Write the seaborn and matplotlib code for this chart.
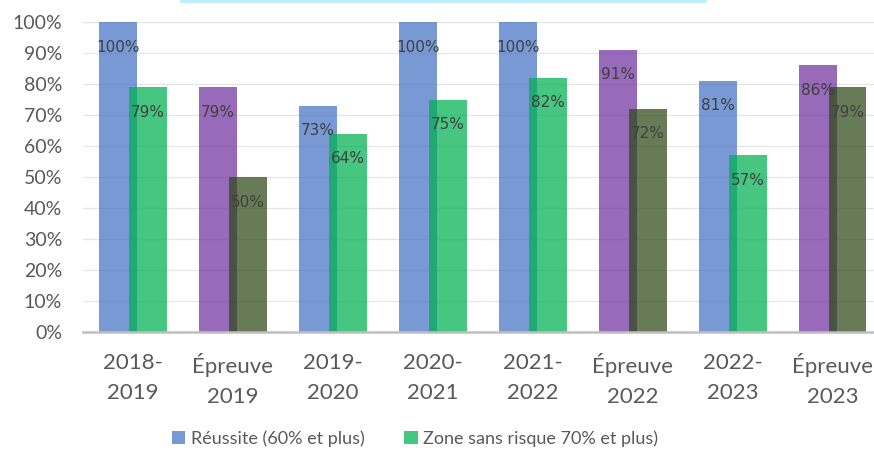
import matplotlib
matplotlib.use('Agg')
import numpy as np
import pandas as pd
import matplotlib.pyplot as plt
import seaborn as sns
from matplotlib.patches import Patch, Rectangle
from matplotlib.ticker import PercentFormatter

categories = ['2018-\n2019', 'Épreuve\n2019', '2019-\n2020', '2020-\n2021',
              '2021-\n2022', 'Épreuve\n2022', '2022-\n2023', 'Épreuve\n2023']
reussite = [1.00, 0.79, 0.73, 1.00, 1.00, 0.91, 0.81, 0.86]
zone = [0.79, 0.50, 0.64, 0.75, 0.82, 0.72, 0.57, 0.79]
legend_labels = ['Réussite (60% et plus)', 'Zone sans risque 70% et plus)']

is_epreuve = [c.startswith('Épreuve') for c in categories]
colors1 = ['#7030A0' if e else '#4472C4' for e in is_epreuve]
colors2 = ['#2C4915' if e else '#00B050' for e in is_epreuve]
ALPHA = 0.72
grey = '#595959'

df = pd.DataFrame({'cat': categories, 'reussite': reussite, 'zone': zone})

fig = plt.figure(figsize=(8.74, 4.5), dpi=100)
ax = fig.add_axes([0.095, 0.262, 0.915, 0.689])

sns.barplot(data=df, x='cat', y='reussite', hue='cat', palette=colors1,
            width=0.375, alpha=ALPHA, saturation=1, legend=False, ax=ax)
n1 = len(ax.patches)
sns.barplot(data=df, x='cat', y='zone', hue='cat', palette=colors2,
            width=0.375, alpha=ALPHA, saturation=1, legend=False, ax=ax)

bars1 = ax.patches[:n1]
bars2 = ax.patches[n1:]
for p in bars1:
    p.set_x(p.get_x() - 0.15)
for p in bars2:
    p.set_x(p.get_x() + 0.15)

# data labels inside the bars
for bars, vals in [(bars1, reussite), (bars2, zone)]:
    for p, v in zip(bars, vals):
        ax.annotate(f'{v:.0%}', (p.get_x() + p.get_width() / 2, v),
                    xytext=(0, -25), textcoords='offset pixels',
                    ha='center', va='center', fontsize=11,
                    color='#3F3F3F', family='DejaVu Sans')

ax.set_xlim(-0.5, 7.5)
ax.set_ylim(0, 1.0)
ax.set_yticks(np.arange(0, 1.01, 0.1))
ax.yaxis.set_major_formatter(PercentFormatter(1, decimals=0))
ax.set_xlabel('')
ax.set_ylabel('')
ax.yaxis.grid(True, color='#E6E6E6', lw=1)
ax.set_axisbelow(True)
for s in ['top', 'right', 'left']:
    ax.spines[s].set_visible(False)
ax.spines['bottom'].set_color('#BFBFBF')
ax.spines['bottom'].set_linewidth(1.8)
ax.tick_params(axis='y', length=0, labelsize=14, labelcolor=grey, pad=15)
ax.tick_params(axis='x', length=0, labelsize=16, labelcolor=grey, pad=15)
for t in ax.get_yticklabels() + ax.get_xticklabels():
    t.set_family('Lato')
for t in ax.get_xticklabels():
    t.set_linespacing(1.6)

handles = [Patch(facecolor='#4472C4', alpha=ALPHA), Patch(facecolor='#00B050', alpha=ALPHA)]
fig.legend(handles, legend_labels, loc='center', bbox_to_anchor=(0.475, 0.026),
           ncol=2, frameon=False, prop={'family': 'Lato', 'size': 13},
           labelcolor=grey, handlelength=0.75, handleheight=0.75,
           handletextpad=0.3, columnspacing=2.2)

# bit of the title box peeking in at the top
fig.add_artist(Rectangle((180 / 874, 447.5 / 450), 527 / 874, 2.5 / 450,
                         transform=fig.transFigure, color='#BDEEFB', lw=0))

fig.savefig('out.png', dpi=100)
